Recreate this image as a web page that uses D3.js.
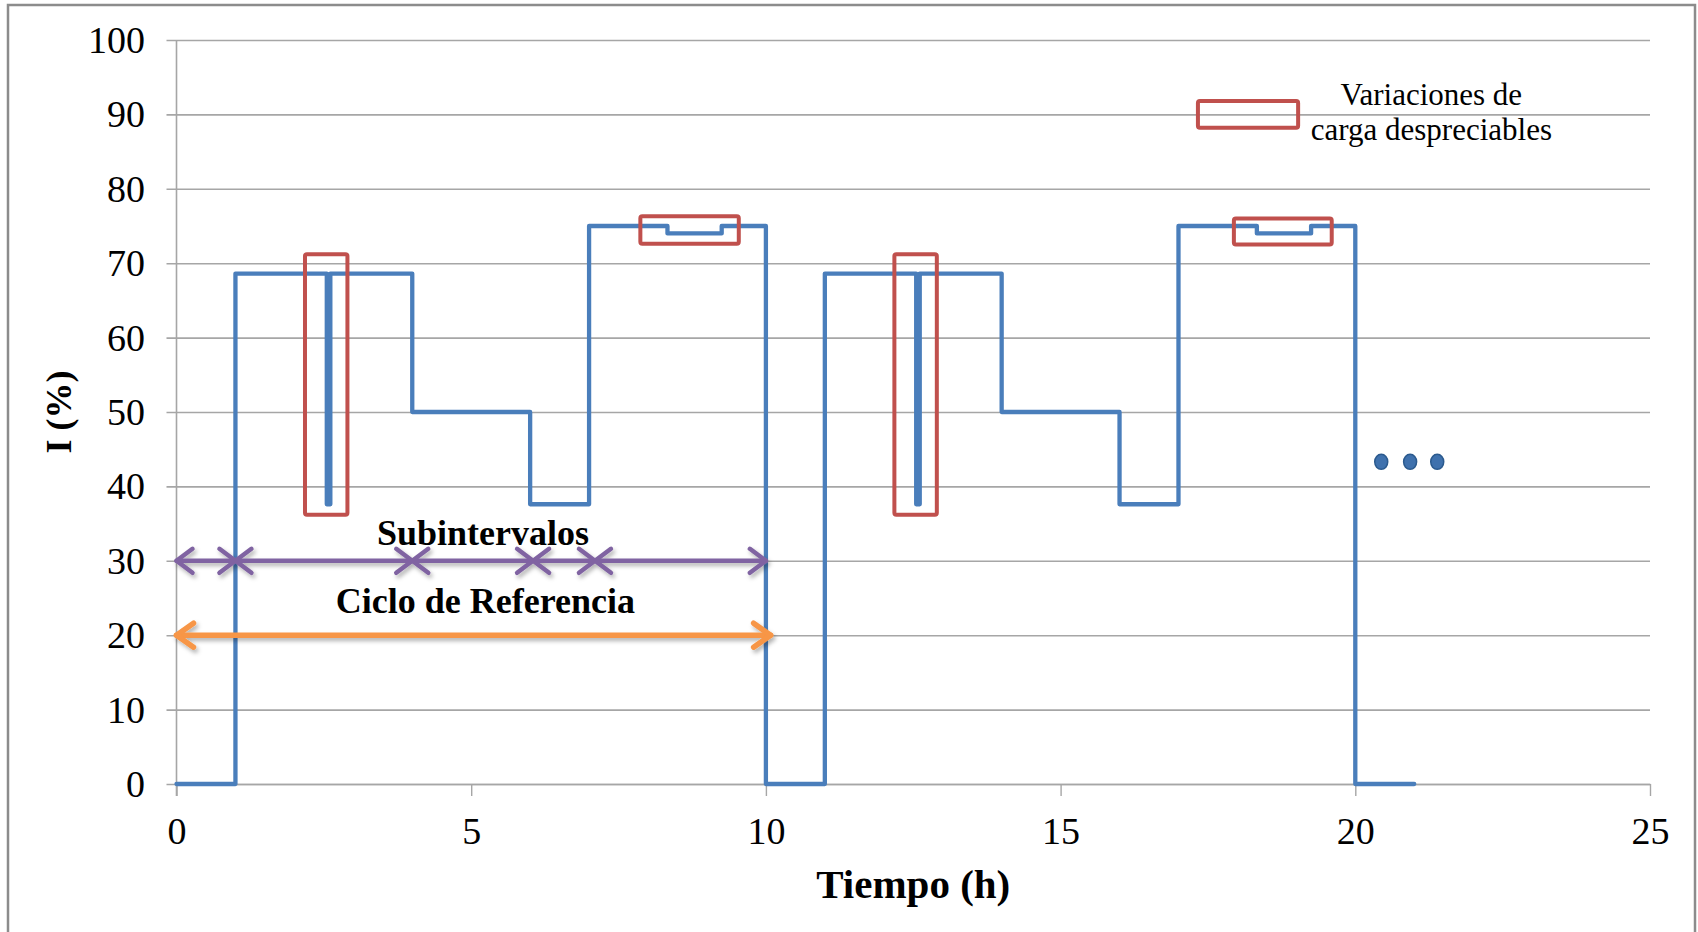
<!DOCTYPE html>
<html>
<head>
<meta charset="utf-8">
<script src="https://cdn.jsdelivr.net/npm/d3@7"></script>
<style>
  body { margin: 0; background: #fff; }
  svg { display: block; }
</style>
</head>
<body>
<div class="container"></div>
<script>
const WIDTH = 1698;
const HEIGHT = 932;

// load profile (time in h, current in %)
var timeH = [0, 1, 1, 2.55, 2.55, 2.61, 2.61, 4, 4, 6, 6, 7, 7, 8.33, 8.33, 9.25, 9.25, 10, 10,
             11, 11, 12.55, 12.55, 12.61, 12.61, 14, 14, 16, 16, 17, 17, 18.33, 18.33, 19.25, 19.25, 20, 20, 21];
var currentPct = [0, 0, 68.6, 68.6, 37.6, 37.6, 68.6, 68.6, 50, 50, 37.6, 37.6, 75, 75, 74, 74, 75, 75, 0,
                  0, 68.6, 68.6, 37.6, 37.6, 68.6, 68.6, 50, 50, 37.6, 37.6, 75, 75, 74, 74, 75, 75, 0, 0];

var xTicks = [0, 5, 10, 15, 20, 25];
var yTicks = [0, 10, 20, 30, 40, 50, 60, 70, 80, 90, 100];

// red boxes: [x0, x1, yLow, yHigh]
var negligibleBoxes = [
    [2.18, 2.90, 36.2, 71.2],
    [12.18, 12.90, 36.2, 71.2],
    [7.87, 9.54, 72.6, 76.3],
    [17.94, 19.60, 72.5, 76.0]
];
var legendBox = [17.33, 19.03, 88.2, 91.8];
var legendLines = ["Variaciones de", "carga despreciables"];

var subintervalBounds = [0, 1, 4, 6.05, 7.1, 10];
var subintervalLevel = 30;
var cycleSpan = [0, 10.08];
var cycleLevel = 20;

var ellipsisX = [20.44, 20.93, 21.39];
var ellipsisY = 43.3;

var FONT = "'Liberation Serif', 'Times New Roman', serif";

var drawArrow = function(g, x1, x2, y, color, width, head) {
    g.append("line")
        .attr("x1", x1).attr("y1", y)
        .attr("x2", x2).attr("y2", y)
        .style("stroke", color).style("stroke-width", width)
        .style("stroke-linecap", "round");
    var heads = [[x1, 1], [x2, -1]];
    heads.forEach(function(h) {
        g.append("path")
            .attr("d", "M" + (h[0] + h[1] * head[0]) + "," + (y - head[1]) +
                       "L" + h[0] + "," + y +
                       "L" + (h[0] + h[1] * head[0]) + "," + (y + head[1]))
            .style("fill", "none")
            .style("stroke", color).style("stroke-width", width)
            .style("stroke-linecap", "round").style("stroke-linejoin", "round");
    });
};

var load = function() {
    var x = d3.scaleLinear().domain([0, 25]).range([176.5, 1650]);
    var y = d3.scaleLinear().domain([0, 100]).range([784, 40]);

    var svg = d3.select(".container")
        .append("svg")
        .attr("width", WIDTH)
        .attr("height", HEIGHT);

    var defs = svg.append("defs");
    defs.append("filter").attr("id", "shadow")
        .attr("x", "-5%").attr("y", "-100%").attr("width", "110%").attr("height", "300%")
        .append("feDropShadow")
        .attr("dx", 2).attr("dy", 3).attr("stdDeviation", 2)
        .attr("flood-color", "#000").attr("flood-opacity", 0.3);

    svg.append("rect").attr("width", WIDTH).attr("height", HEIGHT).style("fill", "#fff");
    svg.append("rect")
        .attr("x", 8).attr("y", 5).attr("width", 1687).attr("height", 960)
        .style("fill", "none").style("stroke", "#8c8c8c").style("stroke-width", 2.5);

    // gridlines + y labels
    var yAxis = svg.append("g")
        .attr("transform", "translate(166.5,0)")
        .call(d3.axisLeft(y).tickValues(yTicks).tickSize(-(1650 - 166.5)).tickPadding(21.5));
    yAxis.select(".domain").remove();
    yAxis.selectAll("line").style("stroke", "#a6a6a6").style("stroke-width", 1.6);
    yAxis.selectAll("text")
        .attr("font-family", FONT).attr("font-size", 38).attr("fill", "#000")
        .attr("dy", "0.33em");

    // x axis
    var xAxis = svg.append("g")
        .attr("transform", "translate(0,784)")
        .call(d3.axisBottom(x).tickValues(xTicks).tickSize(12).tickSizeOuter(0).tickPadding(21));
    xAxis.select(".domain").style("stroke", "#a6a6a6").style("stroke-width", 1.6);
    xAxis.selectAll("line").style("stroke", "#a6a6a6").style("stroke-width", 1.4);
    xAxis.selectAll("text")
        .attr("font-family", FONT).attr("font-size", 38).attr("fill", "#000");

    svg.append("line")
        .attr("x1", x(0)).attr("x2", x(0)).attr("y1", y(100)).attr("y2", y(0) + 12)
        .style("stroke", "#a6a6a6").style("stroke-width", 1.6);

    // axis titles
    svg.append("text")
        .attr("x", x(12.5)).attr("y", 898)
        .attr("text-anchor", "middle")
        .attr("font-family", FONT).attr("font-size", 41).attr("font-weight", "bold")
        .text("Tiempo (h)");
    svg.append("text")
        .attr("transform", "translate(71," + y(50) + ") rotate(-90)")
        .attr("text-anchor", "middle")
        .attr("font-family", FONT).attr("font-size", 36).attr("font-weight", "bold")
        .text("I (%)");

    // load profile
    var pts = timeH.map(function(t, i) { return [t, currentPct[i]]; });
    var line = d3.line().x(function(d) { return x(d[0]); }).y(function(d) { return y(d[1]); });
    svg.append("path")
        .attr("d", line(pts))
        .style("fill", "none").style("stroke", "#4a7ebb").style("stroke-width", 4.3)
        .style("stroke-linejoin", "round").style("stroke-linecap", "round");

    // negligible variation boxes
    svg.selectAll("rect.box")
        .data(negligibleBoxes.concat([legendBox]))
        .enter()
        .append("rect")
        .attr("class", "box")
        .attr("x", function(d) { return x(d[0]); })
        .attr("y", function(d) { return y(d[3]); })
        .attr("width", function(d) { return x(d[1]) - x(d[0]); })
        .attr("height", function(d) { return y(d[2]) - y(d[3]); })
        .attr("rx", 2)
        .style("fill", "none").style("stroke", "#c0504d").style("stroke-width", 4);

    svg.selectAll("text.legend")
        .data(legendLines)
        .enter()
        .append("text")
        .attr("class", "legend")
        .attr("x", x(21.29))
        .attr("y", function(d, i) { return 104.5 + i * 35; })
        .attr("text-anchor", "middle")
        .attr("font-family", FONT).attr("font-size", 31)
        .text(function(d) { return d; });

    // subinterval arrows
    var arrows = svg.append("g").attr("filter", "url(#shadow)");
    for (var i = 0; i < subintervalBounds.length - 1; i++) {
        drawArrow(arrows, x(subintervalBounds[i]), x(subintervalBounds[i + 1]), y(subintervalLevel),
                  "#8064a2", 4.5, [16, 12]);
    }
    drawArrow(arrows, x(cycleSpan[0]), x(cycleSpan[1]), y(cycleLevel), "#f79646", 5.5, [17, 12]);

    svg.append("text")
        .attr("x", x(5.2)).attr("y", 545)
        .attr("text-anchor", "middle")
        .attr("font-family", FONT).attr("font-size", 36).attr("font-weight", "bold")
        .text("Subintervalos");
    svg.append("text")
        .attr("x", x(5.24)).attr("y", 613)
        .attr("text-anchor", "middle")
        .attr("font-family", FONT).attr("font-size", 36).attr("font-weight", "bold")
        .text("Ciclo de Referencia");

    // continuation dots
    svg.selectAll("ellipse")
        .data(ellipsisX)
        .enter()
        .append("ellipse")
        .attr("cx", function(d) { return x(d); })
        .attr("cy", y(ellipsisY))
        .attr("rx", 6.5).attr("ry", 7.5)
        .style("fill", "#3f71ad").style("stroke", "#2b5a8e").style("stroke-width", 1.5);
};

window.onload = load;
</script>
</body>
</html>
